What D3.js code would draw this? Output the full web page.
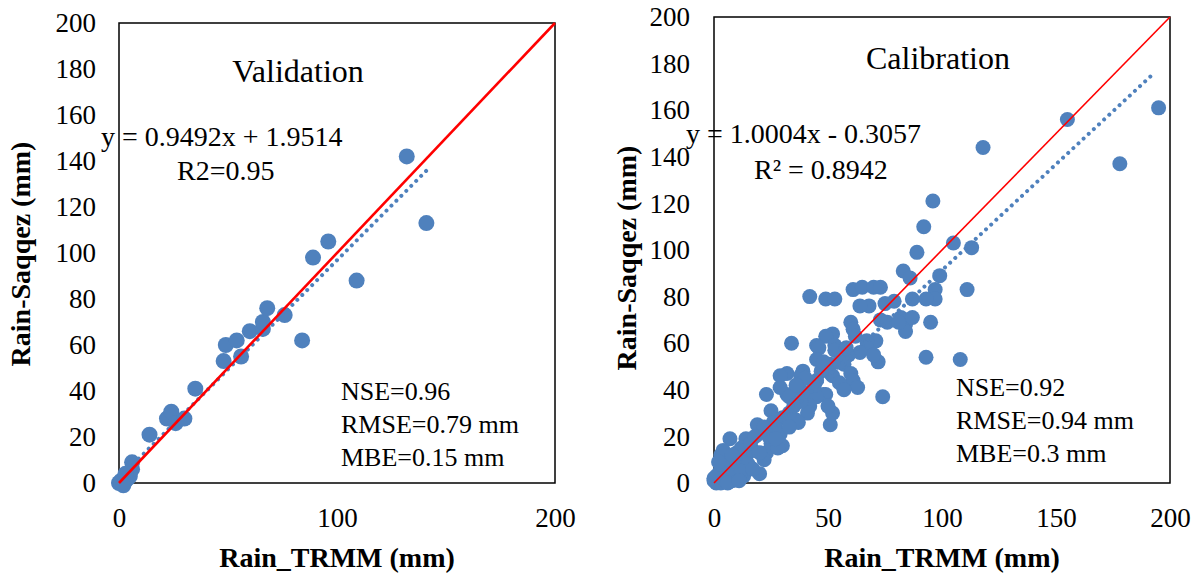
<!DOCTYPE html>
<html>
<head>
<meta charset="utf-8">
<script src="https://cdn.jsdelivr.net/npm/d3@7"></script>
<style>
  body { margin: 0; background: #fff; }
  text { font-family: "Liberation Serif", "Times New Roman", serif; fill: #000; }
</style>
</head>
<body>
<svg id="chart" width="1200" height="576"></svg>
<script>
// validation panel
const valX = [0, 1, 2, 3, 4, 1, 5, 6, 6, 14, 22, 24, 26, 30, 35, 48, 49, 54, 56, 60, 66, 66, 68, 76, 84, 89, 96, 109, 132, 141, 3, 2];
const valY = [0, 1, 0, 1, 2, 0.5, 3, 6, 9, 21, 28, 31, 26, 28, 41, 53, 60, 62, 55, 66, 67, 70, 76, 73, 62, 98, 105, 88, 142, 113, 4, -1];

// calibration panel
const calX = [195, 155, 178, 118, 96, 92, 105, 113, 89, 83, 86, 99, 111, 97, 97, 93, 87, 79, 75, 68, 64, 61, 65, 70, 73,
  42, 49, 53, 60, 61, 73, 76, 82, 84, 87, 95, 84, 81, 71, 67, 67, 72, 93, 108, 74, 34, 52, 49, 45, 53, 46, 53, 64, 70,
  59, 45, 51, 57, 60, 39, 32, 52, 61, 45, 55, 63, 57, 49, 38, 32, 48, 29, 38, 29, 33, 41, 45, 23, 25, 19, 26, 30, 36,
  42, 29, 30, 14, 7, 3, 10, 17, 23, 20, 13, 7, 3, 0, 8, 14, 25, 22, 11, 5, 51, 52, 50, 41, 37, 28, 22,
  1, 2, 0, 3, 4, 2, 5, 6, 1, 3, 6, 4, 9, 10, 12, 15, 16, 18, 8, 12, 6, 2, 11, 17, 20, 24, 27, 33, 35, 38, 44, 47, 40,
  36, 55, 58, 62, 48, 33, 27];
const calY = [161, 156, 137, 144, 121, 110, 103, 101, 99, 91, 88, 89, 83, 83, 79, 79, 79, 78, 77, 76, 76, 83, 84, 84, 84,
  80, 79, 79, 69, 66, 70, 69, 71, 68, 71, 69, 65, 69, 61, 61, 58, 52, 54, 53, 37, 60, 64, 63, 59, 59, 58, 57, 56, 55,
  55, 53, 51, 51, 47, 48, 47, 46, 44, 44, 43, 41, 40, 38, 40, 38, 38, 46, 46, 41, 37, 38, 37, 38, 31, 25, 26, 28, 27,
  33, 21, 16, 19, 19, 12, 13, 14, 13, 4, 3, 6, 6, 1, 1, 11, 17, 10, 7, 3, 25, 30, 33, 30, 26, 15, 24,
  0, 1, 2, 0, 2, 4, 1, 3, 3, 8, 10, 14, 4, 9, 15, 8, 17, 20, 12, 5, 0, 9, 1, 6, 13, 20, 24, 30, 33, 35, 42, 48, 45,
  42, 52, 58, 63, 52, 24, 19];

const axisTicksVal = { x: [0, 100, 200], y: [0, 20, 40, 60, 80, 100, 120, 140, 160, 180, 200] };
const axisTicksCal = { x: [0, 50, 100, 150, 200], y: [0, 20, 40, 60, 80, 100, 120, 140, 160, 180, 200] };

const valTrend = { slope: 0.9492, intercept: 1.9514, xEnd: 141 };
const calTrend = { slope: 0.91, intercept: 0.3, xEnd: 193 };

const valNotes = {
  title: 'Validation', eq: 'y = 0.9492x + 1.9514', r2: 'R2=0.95',
  stats: ['NSE=0.96', 'RMSE=0.79 mm', 'MBE=0.15 mm']
};
const calNotes = {
  title: 'Calibration', eq: 'y = 1.0004x - 0.3057', r2: 'R\u00b2 = 0.8942',
  stats: ['NSE=0.92', 'RMSE=0.94 mm', 'MBE=0.3 mm']
};

const blue = '#4f81bd';
const svg = d3.select('#chart');

function drawPanel(opts) {
  const { box, xs, ys, ticks, trend, notes, pos, redWidth, radius } = opts;

  const x = d3.scaleLinear().domain([0, 200]).range([box.left, box.right]);
  const y = d3.scaleLinear().domain([0, 200]).range([box.bottom, box.top]);
  const g = svg.append('g');

  g.append('rect')
    .attr('x', box.left)
    .attr('y', box.top)
    .attr('width', box.right - box.left)
    .attr('height', box.bottom - box.top)
    .attr('fill', 'none')
    .attr('stroke', '#000')
    .attr('stroke-width', 1.5);

  // tick labels only, Excel style
  const yAxis = d3.axisLeft(y).tickValues(ticks.y).tickSize(0).tickPadding(0);
  g.append('g')
    .attr('transform', `translate(${pos.yTickRight},0)`)
    .call(yAxis)
    .call((s) => s.select('.domain').remove())
    .selectAll('text')
    .attr('font-size', 27)
    .attr('font-family', '"Liberation Serif", serif')
    .attr('fill', '#000');

  const xAxis = d3.axisBottom(x).tickValues(ticks.x).tickSize(0).tickPadding(0);
  g.append('g')
    .attr('transform', `translate(0,${pos.xTickTop})`)
    .call(xAxis)
    .call((s) => s.select('.domain').remove())
    .selectAll('text')
    .attr('font-size', 27)
    .attr('font-family', '"Liberation Serif", serif')
    .attr('fill', '#000');

  g.append('text')
    .attr('x', (box.left + box.right) / 2)
    .attr('y', 567)
    .attr('text-anchor', 'middle')
    .attr('font-size', 28)
    .attr('font-weight', 'bold')
    .text('Rain_TRMM (mm)');

  g.append('text')
    .attr('transform', `translate(${pos.yTitleX},${pos.yTitleY}) rotate(-90)`)
    .attr('text-anchor', 'middle')
    .attr('font-size', 28)
    .attr('font-weight', 'bold')
    .text('Rain-Saqqez (mm)');

  const pts = xs.map((d, i) => [d, ys[i]]);
  g.append('g')
    .selectAll('circle')
    .data(pts)
    .enter().append('circle')
    .attr('cx', (d) => x(d[0]))
    .attr('cy', (d) => y(d[1]))
    .attr('r', radius)
    .attr('fill', blue);

  g.append('line')
    .attr('x1', x(0))
    .attr('y1', y(trend.intercept))
    .attr('x2', x(trend.xEnd))
    .attr('y2', y(trend.slope * trend.xEnd + trend.intercept))
    .attr('stroke', blue)
    .attr('stroke-width', 4)
    .attr('stroke-linecap', 'round')
    .attr('stroke-dasharray', '0.01 7');

  g.append('line')
    .attr('x1', x(0))
    .attr('y1', y(0))
    .attr('x2', x(200))
    .attr('y2', y(200))
    .attr('stroke', '#ff0000')
    .attr('stroke-width', redWidth);

  g.append('text')
    .attr('x', pos.titleX)
    .attr('y', pos.titleY)
    .attr('text-anchor', 'middle')
    .attr('font-size', 32)
    .text(notes.title);

  g.append('text')
    .attr('x', pos.eqX)
    .attr('y', pos.eqY)
    .attr('font-size', 28)
    .text(notes.eq);

  g.append('text')
    .attr('x', pos.r2X)
    .attr('y', pos.r2Y)
    .attr('font-size', 28)
    .text(notes.r2);

  g.append('g')
    .selectAll('text')
    .data(notes.stats)
    .enter().append('text')
    .attr('x', pos.statX)
    .attr('y', (d, i) => pos.statY + i * 33)
    .attr('font-size', 26)
    .text((d) => d);
}

drawPanel({
  box: { left: 119, right: 555, top: 23, bottom: 483 },
  xs: valX, ys: valY, ticks: axisTicksVal, trend: valTrend, notes: valNotes,
  redWidth: 2.6, radius: 8,
  pos: {
    yTickRight: 96, xTickTop: 508, yTitleX: 30, yTitleY: 254,
    titleX: 298, titleY: 82, eqX: 101, eqY: 146, r2X: 177, r2Y: 180,
    statX: 341, statY: 400
  }
});

drawPanel({
  box: { left: 714, right: 1170, top: 17, bottom: 483 },
  xs: calX, ys: calY, ticks: axisTicksCal, trend: calTrend, notes: calNotes,
  redWidth: 1.6, radius: 7.5,
  pos: {
    yTickRight: 690, xTickTop: 508, yTitleX: 636, yTitleY: 258,
    titleX: 938, titleY: 69, eqX: 686, eqY: 143, r2X: 754, r2Y: 179,
    statX: 956, statY: 396
  }
});
</script>
</body>
</html>
